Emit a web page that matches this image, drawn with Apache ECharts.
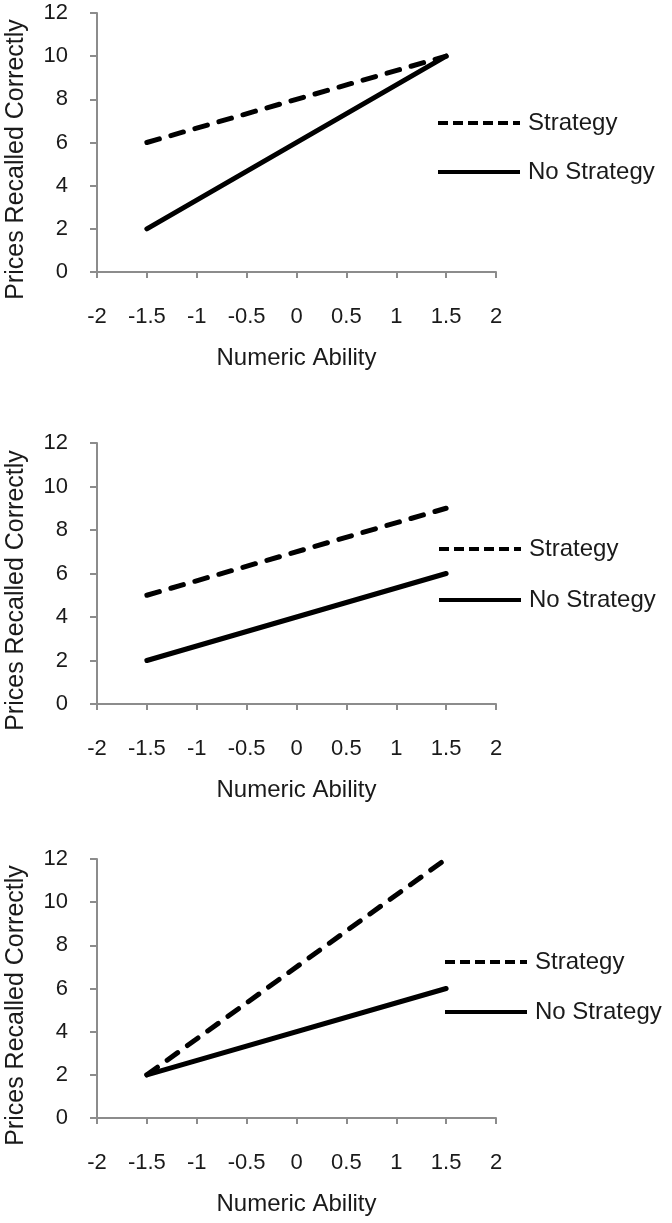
<!DOCTYPE html>
<html>
<head>
<meta charset="utf-8">
<script src="https://cdn.jsdelivr.net/npm/echarts@6/dist/echarts.min.js"></script>
<style>
  html, body { margin: 0; padding: 0; background: #fff; }
  #chart { width: 672px; height: 1223px; }
</style>
</head>
<body>
<div id="chart"></div>
<script>
// ---- data ----
const abilityLevels = [-1.5, 1.5];
const seriesNames = ['Strategy', 'No Strategy'];
const panel1Strategy = [6, 10];
const panel1NoStrategy = [2, 10];
const panel2Strategy = [5, 9];
const panel2NoStrategy = [2, 6];
const panel3Strategy = [2, 12];
const panel3NoStrategy = [2, 6];
const xRange = [-2, 2];
const xStep = 0.5;
const yRange = [0, 12];
const yStep = 2;
const xTitle = 'Numeric Ability';
const yTitle = 'Prices Recalled Correctly';

const panels = [
  { strategy: panel1Strategy, noStrategy: panel1NoStrategy },
  { strategy: panel2Strategy, noStrategy: panel2NoStrategy },
  { strategy: panel3Strategy, noStrategy: panel3NoStrategy }
];

// ---- layout / style ----
const FONT = "'Liberation Sans', Arial, sans-serif";
const TEXT = '#1a1a1a';
const AXIS = '#8c8c8c';
const gridTops = [13, 443, 859];
const gridHeights = [259, 261, 259];
const legendPos = [
  { left: 436, top: 111, gap: 25 },
  { left: 437, top: 537, gap: 27 },
  { left: 443, top: 950, gap: 26 }
];

const chart = echarts.init(document.getElementById('chart'), null, { renderer: 'canvas' });

const grid = [], xAxis = [], yAxis = [], series = [], legend = [], graphic = [];
panels.forEach((p, i) => {
  grid.push({ left: 97, width: 399, top: gridTops[i], height: gridHeights[i] });
  xAxis.push({
    type: 'value', gridIndex: i, min: xRange[0], max: xRange[1], interval: xStep,
    axisLine: { show: true, onZero: false, lineStyle: { color: AXIS, width: 2 } },
    axisTick: { show: true, inside: false, length: 6, lineStyle: { color: AXIS, width: 2 } },
    splitLine: { show: false },
    axisLabel: { margin: 34, color: TEXT, fontSize: 22, fontFamily: FONT },
    name: xTitle, nameLocation: 'middle', nameGap: 74,
    nameTextStyle: { color: TEXT, fontSize: 24, fontFamily: FONT }
  });
  yAxis.push({
    type: 'value', gridIndex: i, min: yRange[0], max: yRange[1], interval: yStep,
    axisLine: { show: true, onZero: false, lineStyle: { color: AXIS, width: 2 } },
    axisTick: { show: true, inside: false, length: 7, lineStyle: { color: AXIS, width: 2 } },
    splitLine: { show: false },
    axisLabel: { margin: 29, color: TEXT, fontSize: 22, fontFamily: FONT }
  });
  series.push({
    name: seriesNames[1], type: 'line', xAxisIndex: i, yAxisIndex: i,
    data: abilityLevels.map((x, k) => [x, p.noStrategy[k]]),
    symbol: 'none', silent: true, color: '#000',
    lineStyle: { color: '#000', width: 5, type: 'solid', cap: 'round' }
  });
  series.push({
    name: seriesNames[0], type: 'line', xAxisIndex: i, yAxisIndex: i,
    data: abilityLevels.map((x, k) => [x, p.strategy[k]]),
    symbol: 'none', silent: true, color: '#000',
    lineStyle: { color: '#000', width: 5, type: [13, 12], cap: 'round' }
  });
  legend.push({
    orient: 'vertical', left: legendPos[i].left, top: legendPos[i].top,
    itemWidth: 82, itemHeight: 24, itemGap: legendPos[i].gap,
    selectedMode: false, padding: 0,
    textStyle: { color: TEXT, fontSize: 24, fontFamily: FONT, padding: [0, 0, 0, 3] },
    data: [
      { name: seriesNames[0], itemStyle: { opacity: 0 },
        lineStyle: { color: '#000', width: 4, type: [10, 5], cap: 'butt' } },
      { name: seriesNames[1], itemStyle: { opacity: 0 },
        lineStyle: { color: '#000', width: 4, type: 'solid', cap: 'butt' } }
    ]
  });
  graphic.push({
    type: 'text', x: 16, y: gridTops[i] + gridHeights[i] / 2 + 17, rotation: Math.PI / 2,
    style: { text: yTitle, x: 0, y: 0, align: 'center', verticalAlign: 'middle',
             font: '25px ' + FONT, fill: TEXT }
  });
});

chart.setOption({
  backgroundColor: '#fff',
  animation: false,
  grid, xAxis, yAxis, series, legend, graphic
});
</script>
</body>
</html>
